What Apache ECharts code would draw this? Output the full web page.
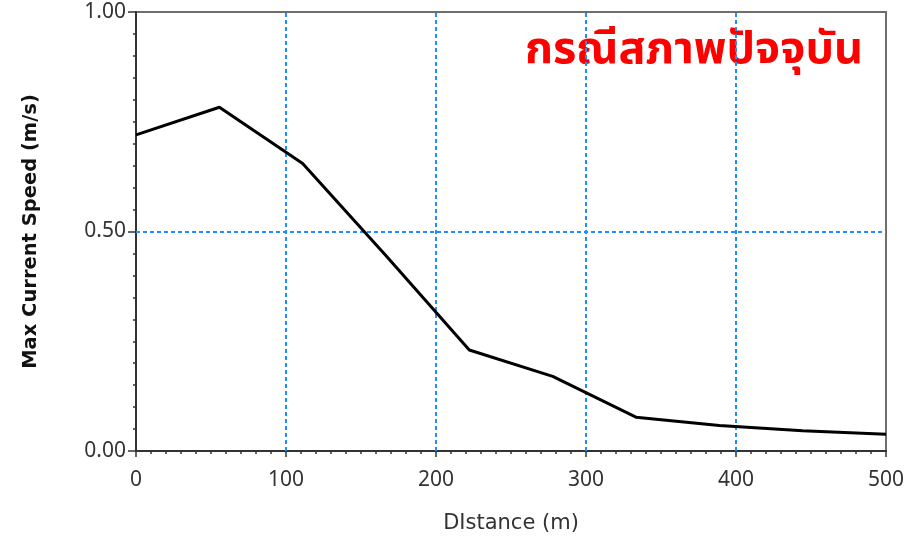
<!DOCTYPE html>
<html>
<head>
<meta charset="utf-8">
<script src="https://cdn.jsdelivr.net/npm/echarts@6/dist/echarts.min.js"></script>
<style>
html,body{margin:0;padding:0;background:#fff;}
#chart{width:920px;height:539px;}
</style>
</head>
<body>
<div id="chart"></div>
<script>
// Data
var distances = [0, 55.6, 111.1, 166.7, 222.2, 277.8, 333.3, 388.9, 444.4, 500];
var speeds = [0.720, 0.783, 0.655, 0.445, 0.230, 0.170, 0.077, 0.058, 0.046, 0.038];
var xGridTicks = [100, 200, 300, 400];
var yGridTicks = [0.5];
var xAxisTitle = 'DIstance (m)';
var yAxisTitle = 'Max Current Speed (m/s)';
var caseLabel = 'กรณีสภาพปัจจุบัน';

var font = "Tahoma, 'DejaVu Sans', 'Noto Sans', sans-serif";
var tickFont = "Tahoma, 'Noto Sans', 'DejaVu Sans', sans-serif";
var thaiFont = "Tahoma, 'Noto Sans Thai', 'Noto Sans Thai UI', 'Loma', 'Garuda', 'Noto Sans', sans-serif";

var points = distances.map(function (d, i) { return [d, speeds[i]]; });
var gridMarks = xGridTicks.map(function (v) { return { xAxis: v }; })
  .concat(yGridTicks.map(function (v) { return { yAxis: v }; }));

var chart = echarts.init(document.getElementById('chart'));
chart.setOption({
  animation: false,
  backgroundColor: '#ffffff',
  grid: {
    left: 136, right: 34, top: 12, bottom: 87,
    show: true, borderColor: '#6e6e6e', borderWidth: 2, backgroundColor: 'transparent'
  },
  graphic: [{
    type: 'text',
    right: 57,
    top: 31,
    style: {
      text: caseLabel,
      fill: '#ff0000',
      font: 'bold 45px ' + thaiFont
    }
  }],
  xAxis: {
    type: 'value',
    min: 0, max: 500, interval: 100,
    name: xAxisTitle,
    nameLocation: 'middle',
    nameGap: 62,
    nameTextStyle: { color: '#333', fontSize: 21, fontFamily: font },
    axisLine: { show: true, lineStyle: { color: '#333', width: 2 } },
    axisTick: { show: true, length: 6, lineStyle: { color: '#333', width: 1.5 } },
    minorTick: { show: true, splitNumber: 10, length: 3, lineStyle: { color: '#333', width: 1.5 } },
    axisLabel: { color: '#333', fontSize: 21, fontFamily: tickFont, margin: 19 },
    splitLine: { show: false }
  },
  yAxis: {
    type: 'value',
    min: 0, max: 1, interval: 0.5,
    name: yAxisTitle,
    nameLocation: 'middle',
    nameGap: 95,
    nameTextStyle: { color: '#111', fontSize: 19.5, fontWeight: 'bold', fontFamily: font },
    axisLine: { show: true, lineStyle: { color: '#333', width: 2 } },
    axisTick: { show: true, length: 8, lineStyle: { color: '#333', width: 1.5 } },
    minorTick: { show: true, splitNumber: 10, length: 3, lineStyle: { color: '#333', width: 1.5 } },
    axisLabel: {
      color: '#333', fontSize: 21, fontFamily: tickFont, margin: 10,
      formatter: function (v) { return v.toFixed(2); }
    },
    splitLine: { show: false }
  },
  series: [{
    type: 'line',
    data: points,
    symbol: 'none',
    lineStyle: { color: '#000', width: 3 },
    markLine: {
      silent: true,
      symbol: 'none',
      label: { show: false },
      lineStyle: { type: [4, 3], color: '#1e8fff', width: 2 },
      data: gridMarks,
      z: 1
    },
    z: 3
  }]
});
</script>
</body>
</html>
